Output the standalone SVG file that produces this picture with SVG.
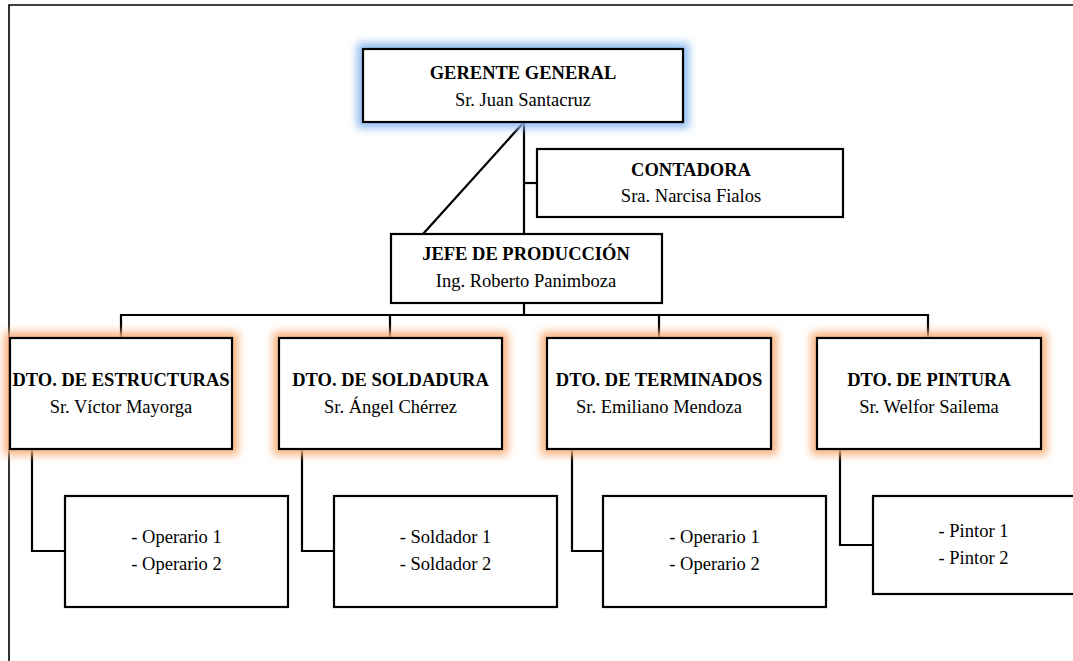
<svg xmlns="http://www.w3.org/2000/svg" width="1073" height="661" viewBox="0 0 1073 661">
<style>
.box{fill:#fff;stroke:#000;stroke-width:2.2}
.t{font-family:"Liberation Serif","Times New Roman",serif;font-size:18.5px;fill:#000;text-anchor:middle}
.b{font-weight:bold}
.c{fill:none;stroke:#000;stroke-width:2.2}
.gb{fill:#8fbcf0}
.go{fill:#f8b07c}
</style>
<defs>
<filter id="glow" x="-20%" y="-40%" width="140%" height="180%">
<feGaussianBlur stdDeviation="4"/>
</filter>
</defs>
<rect width="1073" height="661" fill="#fff"/>
<path d="M9,661 V5 H1073" fill="none" stroke="#000" stroke-width="1.6"/>
<g id="connectors">
<path class="c" d="M524,122 V234"/>
<path class="c" d="M524,122 L423,234"/>
<path class="c" d="M524,183 H537"/>
<path class="c" d="M524,303 V315"/>
<path class="c" d="M121,337 V315 H928 V337"/>
<path class="c" d="M390,315 V337"/>
<path class="c" d="M659,315 V337"/>
<path class="c" d="M32,449 V551 H65"/>
<path class="c" d="M302,449 V551 H334"/>
<path class="c" d="M572,449 V551 H603"/>
<path class="c" d="M840,449 V545 H873"/>
</g>
<g id="gerente">
<rect class="gb" x="357" y="43" width="332" height="85" filter="url(#glow)"/>
<rect class="box" x="363" y="49" width="320" height="73"/>
<text class="t b" x="523" y="79">GERENTE GENERAL</text>
<text class="t" x="523" y="105.5">Sr. Juan Santacruz</text>
</g>
<g id="contadora">
<rect class="box" x="537" y="149" width="306" height="68"/>
<text class="t b" x="691" y="176">CONTADORA</text>
<text class="t" x="691" y="202">Sra. Narcisa Fialos</text>
</g>
<g id="jefe">
<rect class="box" x="391" y="234" width="271" height="69"/>
<text class="t b" x="526" y="260">JEFE DE PRODUCCIÓN</text>
<text class="t" x="526" y="287">Ing. Roberto Panimboza</text>
</g>
<g id="estructuras">
<rect class="go" x="4" y="332" width="234" height="123" filter="url(#glow)"/>
<rect class="box" x="10" y="338" width="222" height="111"/>
<text class="t b" x="121" y="386">DTO. DE ESTRUCTURAS</text>
<text class="t" x="121" y="413">Sr. Víctor Mayorga</text>
</g>
<g id="soldadura">
<rect class="go" x="273" y="332" width="235" height="123" filter="url(#glow)"/>
<rect class="box" x="279" y="338" width="223" height="111"/>
<text class="t b" x="390.5" y="386">DTO. DE SOLDADURA</text>
<text class="t" x="390.5" y="413">Sr. Ángel Chérrez</text>
</g>
<g id="terminados">
<rect class="go" x="541" y="332" width="236" height="123" filter="url(#glow)"/>
<rect class="box" x="547" y="338" width="224" height="111"/>
<text class="t b" x="659" y="386">DTO. DE TERMINADOS</text>
<text class="t" x="659" y="413">Sr. Emiliano Mendoza</text>
</g>
<g id="pintura">
<rect class="go" x="811" y="332" width="236" height="123" filter="url(#glow)"/>
<rect class="box" x="817" y="338" width="224" height="111"/>
<text class="t b" x="929" y="386">DTO. DE PINTURA</text>
<text class="t" x="929" y="413">Sr. Welfor Sailema</text>
</g>
<g id="operarios-estructuras">
<rect class="box" x="65" y="496" width="223" height="111"/>
<text class="t" x="176.5" y="543">- Operario 1</text>
<text class="t" x="176.5" y="570">- Operario 2</text>
</g>
<g id="soldadores">
<rect class="box" x="334" y="496" width="223" height="111"/>
<text class="t" x="445.5" y="543">- Soldador 1</text>
<text class="t" x="445.5" y="570">- Soldador 2</text>
</g>
<g id="operarios-terminados">
<rect class="box" x="603" y="496" width="223" height="111"/>
<text class="t" x="714.5" y="543">- Operario 1</text>
<text class="t" x="714.5" y="570">- Operario 2</text>
</g>
<g id="pintores">
<rect class="box" x="873" y="496" width="202" height="98"/>
<text class="t" x="973.5" y="537">- Pintor 1</text>
<text class="t" x="973.5" y="564">- Pintor 2</text>
</g>
</svg>
